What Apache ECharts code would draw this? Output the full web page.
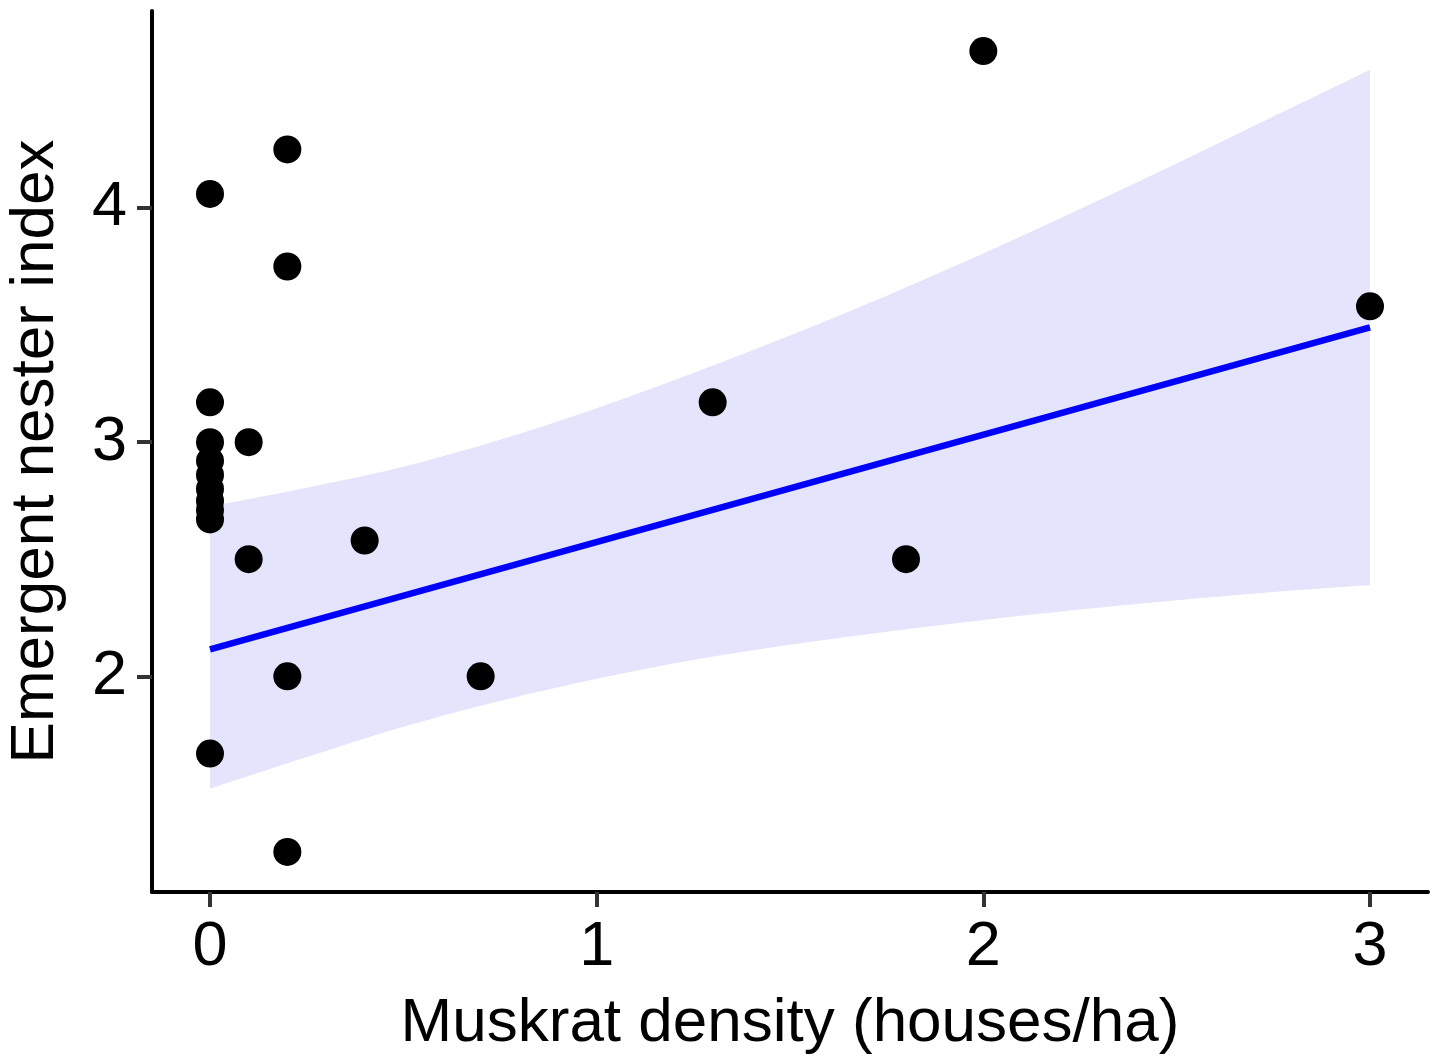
<!DOCTYPE html>
<html>
<head>
<meta charset="utf-8">
<script src="https://cdn.jsdelivr.net/npm/echarts@6/dist/echarts.min.js"></script>
<style>
  html, body { margin: 0; padding: 0; background: #ffffff; }
  #chart { width: 1437px; height: 1061px; }
</style>
</head>
<body>
<div id="chart"></div>
<script>
// Observed points
const pointX = [0, 0, 0, 0, 0, 0, 0, 0, 0, 0, 0.1, 0.1, 0.2, 0.2, 0.2, 0.2, 0.4, 0.7, 1.3, 1.8, 2.0, 3.0];
const pointY = [4.06, 3.17, 3.0, 2.92, 2.86, 2.8, 2.75, 2.71, 2.67, 1.67, 3.0, 2.5, 4.25, 3.75, 2.0, 1.25, 2.58, 2.0, 3.17, 2.5, 4.67, 3.58];

// Fitted line (read at its ends)
const fitX = [0, 3];
const fitY = [2.115, 3.49];

// Confidence band
const bandX     = [0,     0.25,  0.5,   0.75,  1.0,   1.25,  1.5,   1.75,  2.0,   2.25,  2.5,   2.75,  3.0];
const bandUpper = [2.725, 2.805, 2.895, 3.01,  3.145, 3.295, 3.455, 3.625, 3.805, 3.995, 4.19,  4.39,  4.59];
const bandLower = [1.52,  1.655, 1.785, 1.895, 1.99,  2.07,  2.135, 2.19,  2.24,  2.285, 2.325, 2.36,  2.39];

// Tick labels
const xTicks = [0, 1, 2, 3];
const yTicks = [2, 3, 4];

const xTitle = 'Muskrat density (houses/ha)';
const yTitle = 'Emergent nester index';

const chart = echarts.init(document.getElementById('chart'), null, { renderer: 'canvas' });

const FONT = 'Liberation Sans, Arial, Helvetica, sans-serif';
const BAND_FILL = '#e4e4fc';

// Smooth path through pixel points (Catmull-Rom -> cubic Bezier)
function curveSegments(p, startWithMove) {
  let d = startWithMove ? 'M' + p[0][0] + ' ' + p[0][1] : 'L' + p[0][0] + ' ' + p[0][1];
  for (let i = 0; i < p.length - 1; i++) {
    const p0 = p[i - 1] || p[i];
    const p1 = p[i];
    const p2 = p[i + 1];
    const p3 = p[i + 2] || p[i + 1];
    const c1 = [p1[0] + (p2[0] - p0[0]) / 6, p1[1] + (p2[1] - p0[1]) / 6];
    const c2 = [p2[0] - (p3[0] - p1[0]) / 6, p2[1] - (p3[1] - p1[1]) / 6];
    d += ' C' + c1[0] + ' ' + c1[1] + ' ' + c2[0] + ' ' + c2[1] + ' ' + p2[0] + ' ' + p2[1];
  }
  return d;
}

const option = {
  animation: false,
  backgroundColor: '#ffffff',
  grid: {
    left: 152, right: 9, top: 11, bottom: 169,
    containLabel: false,
    outerBoundsMode: 'none'
  },
  xAxis: {
    type: 'value',
    min: -0.15,
    max: 3.15,
    name: xTitle,
    nameLocation: 'middle',
    nameGap: 101,
    nameTextStyle: { color: '#000', fontSize: 62, fontFamily: FONT },
    axisLine: { show: true, onZero: false, lineStyle: { color: '#000', width: 4 } },
    axisTick: { show: true, length: 15, customValues: xTicks, lineStyle: { color: '#333', width: 4 } },
    axisLabel: { show: true, customValues: xTicks, margin: 24, color: '#000', fontSize: 63, fontFamily: FONT },
    splitLine: { show: false }
  },
  yAxis: {
    type: 'value',
    min: 1.079,
    max: 4.841,
    name: yTitle,
    nameLocation: 'middle',
    nameGap: 85,
    nameRotate: 90,
    nameTextStyle: { color: '#000', fontSize: 62, fontFamily: FONT },
    axisLine: { show: true, onZero: false, lineStyle: { color: '#000', width: 4 } },
    axisTick: { show: true, length: 15, customValues: yTicks, lineStyle: { color: '#333', width: 4 } },
    axisLabel: { show: true, customValues: yTicks, margin: 25, color: '#000', fontSize: 63, fontFamily: FONT },
    splitLine: { show: false }
  },
  series: [
    {
      type: 'custom',
      name: 'band',
      silent: true,
      clip: true,
      z: 1,
      data: [0],
      renderItem: function (params, api) {
        const up = bandX.map((x, i) => api.coord([x, bandUpper[i]]));
        const lo = bandX.map((x, i) => api.coord([x, bandLower[i]])).reverse();
        const d = curveSegments(up, true) + ' ' + curveSegments(lo, false) + ' Z';
        return { type: 'path', shape: { pathData: d }, style: { fill: BAND_FILL, stroke: null } };
      }
    },
    {
      type: 'line',
      name: 'fit',
      z: 2,
      data: fitX.map((x, i) => [x, fitY[i]]),
      symbol: 'none',
      lineStyle: { color: '#0000ff', width: 6.5, cap: 'butt' },
      silent: true
    },
    {
      type: 'scatter',
      name: 'points',
      z: 3,
      data: pointX.map((x, i) => [x, pointY[i]]),
      symbol: 'circle',
      symbolSize: 28,
      itemStyle: { color: '#000000', opacity: 1 }
    }
  ]
};

chart.setOption(option);
</script>
</body>
</html>
